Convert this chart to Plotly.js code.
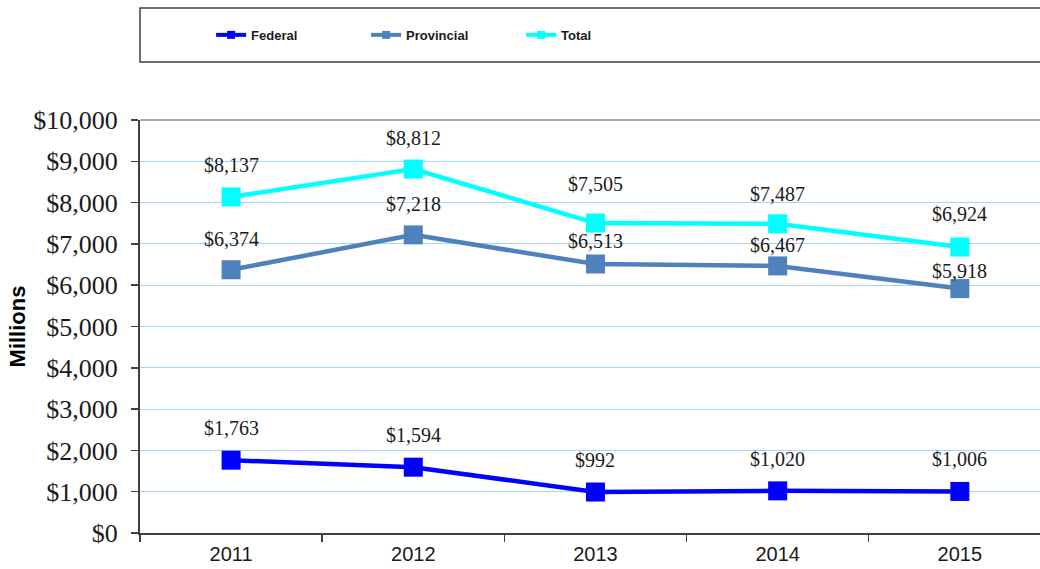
<!DOCTYPE html>
<html><head><meta charset="utf-8">
<script src="https://cdn.plot.ly/plotly-3.0.1.min.js"></script>
<style>html,body{margin:0;padding:0;background:#fff;}#chart{width:1040px;height:569px;}</style>
</head><body><div id="chart"></div>
<script>
const years = ["2011", "2012", "2013", "2014", "2015"];
const federal = [1763, 1594, 992, 1020, 1006];
const provincial = [6374, 7218, 6513, 6467, 5918];
const total = [8137, 8812, 7505, 7487, 6924];
const seriesNames = ["Federal", "Provincial", "Total"];
const yTickVals = [0, 1000, 2000, 3000, 4000, 5000, 6000, 7000, 8000, 9000, 10000];

const colors = ["#0000ff", "#4f81bd", "#00ffff"];
const labelShift = [[32, 32, 32, 32, 32], [31, 31, 23, 21, 18], [32, 31, 39, 30, 33]];
const allSeries = [federal, provincial, total];

const fmt = v => "$" + v.toLocaleString("en-US");

const traces = [];
allSeries.forEach((s, i) => {
  traces.push({
    x: years, y: s, type: "scatter", mode: "lines+markers", name: seriesNames[i],
    showlegend: false, cliponaxis: false,
    line: {color: colors[i], width: 4.5},
    marker: {symbol: "square", size: 19, color: colors[i]}
  });
});
allSeries.forEach((s, i) => {
  traces.push({
    x: [null], y: [null], type: "scatter", mode: "lines+markers", name: seriesNames[i],
    line: {color: colors[i], width: 4}, marker: {symbol: "square", size: 8, color: colors[i]}
  });
});

const annotations = [];
allSeries.forEach((s, i) => {
  s.forEach((v, j) => {
    annotations.push({
      xref: "x", yref: "y", x: j, y: v, text: fmt(v), showarrow: false, yshift: labelShift[i][j],
      font: {family: "Liberation Serif, serif", size: 20, color: "#1a1a1a"}
    });
  });
});

const layout = {
  width: 1040, height: 569,
  margin: {l: 140, r: 0, t: 120, b: 36},
  paper_bgcolor: "#fff", plot_bgcolor: "#fff",
  xaxis: {
    type: "category", range: [-0.5, 4.44], showgrid: false, zeroline: false,
    showline: true, linecolor: "#404040", linewidth: 2,
    ticks: "outside", tickson: "boundaries", ticklen: 7, tickcolor: "#404040", tickwidth: 1.5,
    tickfont: {family: "Liberation Sans, Arial, sans-serif", size: 20, color: "#1a1a1a"},
    ticklabelstandoff: 2
  },
  yaxis: {
    range: [0, 10000], tickvals: yTickVals, ticktext: yTickVals.map(fmt),
    showgrid: true, gridcolor: "#a9d3ff", gridwidth: 1, zeroline: false,
    showline: true, linecolor: "#404040", linewidth: 2,
    ticks: "outside", ticklen: 7, tickcolor: "#404040", tickwidth: 1.5,
    tickfont: {family: "Liberation Serif, serif", size: 26, color: "#1a1a1a"},
    ticklabelstandoff: 8,
    title: {text: "<b>Millions</b>", font: {family: "Liberation Sans, Arial, sans-serif", size: 22, color: "#000"}, standoff: 2}
  },
  legend: {
    orientation: "h", x: 0.079, xanchor: "left", y: 1.206, yanchor: "middle",
    bgcolor: "rgba(0,0,0,0)", borderwidth: 0, entrywidth: 110, itemsizing: "trace",
    font: {family: "Liberation Sans, Arial, sans-serif", size: 13, color: "#1a1a1a", weight: "bold"}
  },
  shapes: [
    {type: "rect", xref: "paper", yref: "paper", x0: 0, x1: 1.02, y0: 1.1404, y1: 1.2712,
     line: {color: "#404040", width: 1.5}, fillcolor: "rgba(0,0,0,0)"},
    {type: "line", xref: "paper", yref: "paper", x0: 0, x1: 1, y0: 1, y1: 1,
     line: {color: "#8c8c8c", width: 1.5}}
  ],
  annotations: annotations
};

Plotly.newPlot("chart", traces, layout, {displayModeBar: false, staticPlot: true});
</script>
</body></html>
